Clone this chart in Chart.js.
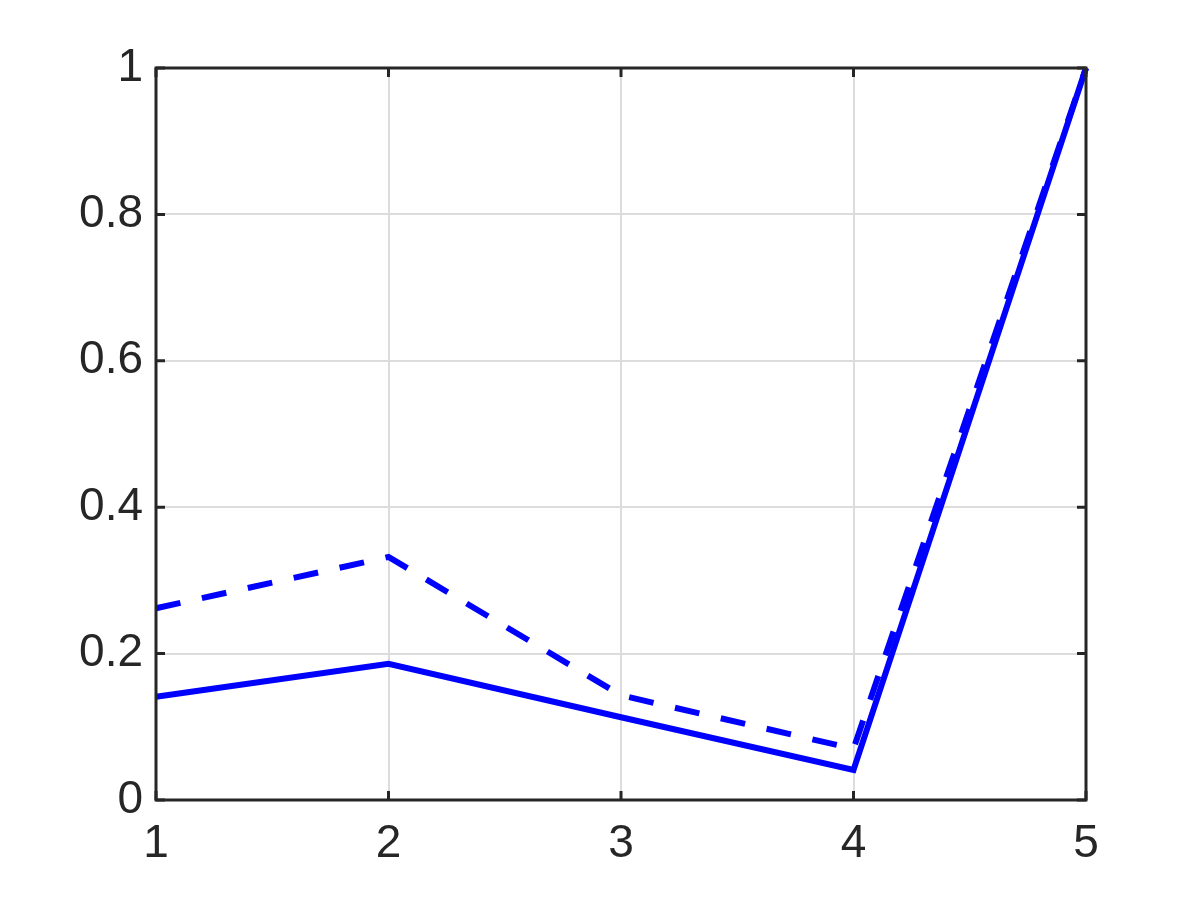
<!DOCTYPE html>
<html>
<head>
<meta charset="utf-8">
<script src="https://cdn.jsdelivr.net/npm/chart.js@4/dist/chart.umd.min.js"></script>
<style>
  html, body { margin: 0; padding: 0; background: #fff; }
  #wrap { width: 1200px; height: 900px; }
</style>
</head>
<body>
<div id="wrap"><canvas id="chart" width="1200" height="900"></canvas></div>
<script>
// values
const xValues = [1, 2, 3, 4, 5];
const solidValues = [0.141, 0.186, 0.113, 0.041, 1.0];
const dashedValues = [0.262, 0.332, 0.143, 0.070, 1.0];
const xTicks = [1, 2, 3, 4, 5];
const yTicks = [0, 0.2, 0.4, 0.6, 0.8, 1];

const axisColor = '#262626';

// draws the box and inward ticks on all four sides
const boxPlugin = {
    id: 'box',
    afterDatasetsDraw(chart) {
        const { ctx, chartArea: a, scales } = chart;
        ctx.save();
        ctx.strokeStyle = axisColor;
        ctx.lineWidth = 3;
        const len = 9;
        ctx.beginPath();
        xTicks.forEach(v => {
            const px = scales.x.getPixelForValue(v);
            ctx.moveTo(px, a.bottom); ctx.lineTo(px, a.bottom - len);
            ctx.moveTo(px, a.top); ctx.lineTo(px, a.top + len);
        });
        yTicks.forEach(v => {
            const py = scales.y.getPixelForValue(v);
            ctx.moveTo(a.left, py); ctx.lineTo(a.left + len, py);
            ctx.moveTo(a.right, py); ctx.lineTo(a.right - len, py);
        });
        ctx.stroke();
        ctx.strokeRect(a.left, a.top, a.right - a.left, a.bottom - a.top);
        ctx.restore();
    }
};

new Chart(document.getElementById('chart'), {
    type: 'line',
    data: {
        datasets: [
            {
                data: xValues.map((x, i) => ({ x: x, y: solidValues[i] })),
                borderColor: '#0000ff',
                borderWidth: 6,
                pointRadius: 0,
                tension: 0,
                fill: false
            },
            {
                data: xValues.map((x, i) => ({ x: x, y: dashedValues[i] })),
                borderColor: '#0000ff',
                borderWidth: 6,
                borderDash: [25, 22],
                pointRadius: 0,
                tension: 0,
                fill: false
            }
        ]
    },
    options: {
        responsive: false,
        animation: false,
        clip: false,
        layout: { padding: { top: 68, right: 114, left: 0, bottom: 0 } },
        plugins: { legend: { display: false }, tooltip: { enabled: false } },
        scales: {
            x: {
                type: 'linear',
                min: 1, max: 5,
                afterFit: s => { s.height = 100; },
                afterBuildTicks: s => { s.ticks = xTicks.map(v => ({ value: v })); },
                grid: { color: '#dcdcdc', lineWidth: 2, drawTicks: false },
                border: { display: false },
                ticks: {
                    color: axisColor,
                    padding: 17,
                    font: { family: 'Liberation Sans, Arial, sans-serif', size: 46 },
                    maxRotation: 0
                }
            },
            y: {
                min: 0, max: 1,
                afterFit: s => { s.width = 156; },
                afterBuildTicks: s => { s.ticks = yTicks.map(v => ({ value: v })); },
                grid: { color: '#dcdcdc', lineWidth: 2, drawTicks: false },
                border: { display: false },
                ticks: {
                    color: axisColor,
                    padding: 13,
                    font: { family: 'Liberation Sans, Arial, sans-serif', size: 46 },
                    callback: v => String(v)
                }
            }
        }
    },
    plugins: [boxPlugin]
});
</script>
</body>
</html>
